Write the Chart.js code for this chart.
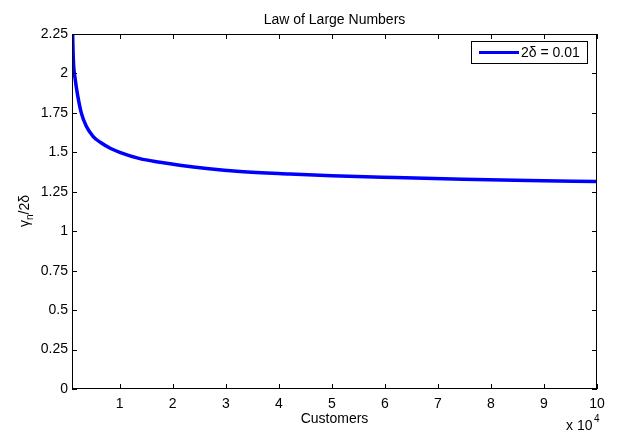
<!DOCTYPE html>
<html lang="en">
<head>
  <meta charset="utf-8">
  <script src="https://cdn.jsdelivr.net/npm/chart.js"></script>
  <style>
    body { margin: 0; background: #fff; }
    #wrap { width: 620px; height: 433px; }
  </style>
</head>
<body>
  <div id="wrap"><canvas id="chartLLN" width="620" height="433"></canvas></div>

<script>
  // dados (clientes em unidades de 10^4)
  var customers = [0.1, 0.113, 0.125, 0.162, 0.213, 0.275, 0.37, 0.5, 0.64, 0.83, 1.0, 1.38, 1.76, 2.13, 2.64, 3.27, 4.21, 5.0, 6.2, 7.47, 8.7, 10];
  var ratio     = [2.5, 2.24, 2.09, 1.96, 1.85, 1.75, 1.665, 1.60, 1.562, 1.524, 1.50, 1.46, 1.437, 1.418, 1.397, 1.378, 1.362, 1.351, 1.34, 1.33, 1.322, 1.315];
  var xTicks = [1, 2, 3, 4, 5, 6, 7, 8, 9, 10];
  var yTicks = [0, 0.25, 0.5, 0.75, 1, 1.25, 1.5, 1.75, 2, 2.25];
  var seriesLabel = "2\u03b4 = 0.01";

  var FONT = "Liberation Sans, Arial, Helvetica, sans-serif";

  var points = [];
  for (var i = 0; i < customers.length; i++) {
    points.push({ x: customers[i], y: ratio[i] });
  }

  // desenha título, rótulos, ticks internos e legenda estilo MATLAB
  var matlabDeco = {
    id: 'matlabDeco',
    afterDraw: function (chart) {
      var ctx = chart.ctx;
      var a = chart.chartArea;
      var xs = chart.scales.x, ys = chart.scales.y;
      ctx.save();

      // caixa
      ctx.strokeStyle = '#000';
      ctx.lineWidth = 1;
      ctx.strokeRect(Math.round(a.left) + 0.5, Math.round(a.top) + 0.5, Math.round(a.right - a.left) - 1, Math.round(a.bottom - a.top) - 1);

      // ticks para dentro
      var tl = 5;
      ctx.beginPath();
      xTicks.forEach(function (v) {
        var px = Math.round(xs.getPixelForValue(v)) + 0.5;
        ctx.moveTo(px, a.bottom); ctx.lineTo(px, a.bottom - tl);
        ctx.moveTo(px, a.top); ctx.lineTo(px, a.top + tl);
      });
      yTicks.forEach(function (v) {
        var py = Math.round(ys.getPixelForValue(v)) + 0.5;
        ctx.moveTo(a.left, py); ctx.lineTo(a.left + tl, py);
        ctx.moveTo(a.right, py); ctx.lineTo(a.right - tl, py);
      });
      ctx.stroke();

      ctx.fillStyle = '#000';
      var cx = (a.left + a.right) / 2;

      // título
      ctx.font = '14px ' + FONT;
      ctx.textAlign = 'center';
      ctx.textBaseline = 'alphabetic';
      ctx.fillText('Law of Large Numbers', cx, 24);

      // eixo x
      ctx.fillText('Customers', cx, 423);

      // x 10^4
      ctx.textAlign = 'left';
      ctx.fillText('x 10', 566, 430);
      ctx.font = '10px ' + FONT;
      ctx.fillText('4', 594, 422);

      // eixo y: gamma_n / 2 delta
      ctx.save();
      ctx.translate(29, 211);
      ctx.rotate(-Math.PI / 2);
      ctx.font = '14px ' + FONT;
      var w1 = ctx.measureText('\u03b3').width;
      ctx.font = '10px ' + FONT;
      var w2 = ctx.measureText('n').width;
      ctx.font = '14px ' + FONT;
      var w3 = ctx.measureText('/2\u03b4').width;
      var x0 = -(w1 + w2 + w3) / 2;
      ctx.textAlign = 'left';
      ctx.fillText('\u03b3', x0, 0);
      ctx.font = '10px ' + FONT;
      ctx.fillText('n', x0 + w1, 4);
      ctx.font = '14px ' + FONT;
      ctx.fillText('/2\u03b4', x0 + w1 + w2, 0);
      ctx.restore();

      // legenda
      var ds = chart.data.datasets[0];
      ctx.fillStyle = '#fff';
      ctx.fillRect(472, 42, 116, 21);
      ctx.strokeStyle = '#000';
      ctx.lineWidth = 1;
      ctx.strokeRect(471.5, 41.5, 116, 22);
      ctx.strokeStyle = ds.borderColor;
      ctx.lineWidth = 3;
      ctx.beginPath();
      ctx.moveTo(479, 52.5); ctx.lineTo(519, 52.5);
      ctx.stroke();
      ctx.fillStyle = '#000';
      ctx.font = '14px ' + FONT;
      ctx.textAlign = 'left';
      ctx.textBaseline = 'middle';
      ctx.fillText(ds.label, 521, 53);

      ctx.restore();
    }
  };

  var ctxLLN = document.getElementById("chartLLN").getContext("2d");
  var configLLN = {
    type: 'line',
    data: {
      datasets: [
        {
          label: seriesLabel,
          data: points,
          borderColor: '#0000ff',
          borderWidth: 3.5,
          pointRadius: 0,
          fill: false,
          cubicInterpolationMode: 'monotone'
        }
      ]
    },
    options: {
      responsive: false,
      animation: false,
      layout: { padding: { left: 0, right: 23, top: 34, bottom: 0 } },
      plugins: {
        legend: { display: false },
        title: { display: false },
        tooltip: { enabled: false }
      },
      scales: {
        x: {
          type: 'linear',
          min: 0.1,
          max: 10,
          afterBuildTicks: function (scale) {
            scale.ticks = xTicks.map(function (v) { return { value: v }; });
          },
          afterFit: function (scale) { scale.height = 44; },
          grid: { display: false, drawTicks: false },
          border: { display: false },
          ticks: {
            color: '#000',
            font: { family: FONT, size: 14 },
            padding: 7,
            maxRotation: 0,
            callback: function (v) { return String(v); }
          }
        },
        y: {
          min: 0,
          max: 2.25,
          afterBuildTicks: function (scale) {
            scale.ticks = yTicks.map(function (v) { return { value: v }; });
          },
          afterFit: function (scale) { scale.width = 72; },
          grid: { display: false, drawTicks: false },
          border: { display: false },
          ticks: {
            color: '#000',
            font: { family: FONT, size: 14 },
            padding: 4,
            callback: function (v) { return String(+v.toFixed(2)); }
          }
        }
      }
    },
    plugins: [matlabDeco]
  };

  var chartLLN = new Chart(ctxLLN, configLLN);
</script>
</body>
</html>
